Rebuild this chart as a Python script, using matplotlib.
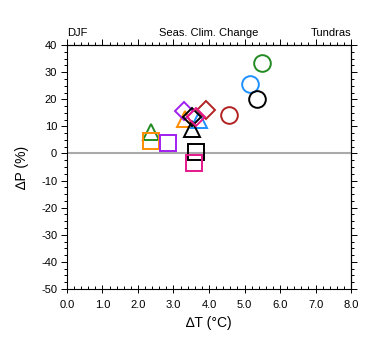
import numpy as np
import matplotlib
matplotlib.use("Agg")
import matplotlib.pyplot as plt
from matplotlib.ticker import MultipleLocator, NullFormatter

plt.rcParams['font.family'] = ['Liberation Sans', 'DejaVu Sans']
plt.rcParams['axes.unicode_minus'] = False

# Werte (dT in degC, dP in %)
kreis_farbe = ['#228b22', '#1e90ff', '#000000', '#b22222']
kreis_dt = [5.48, 5.15, 5.35, 4.57]
kreis_dp = [33.5, 25.7, 20.0, 14.2]

dreieck_farbe = ['#ff8c00', '#1e90ff', '#000000', '#228b22']
dreieck_dt = [3.32, 3.73, 3.53, 2.36]
dreieck_dp = [12.6, 12.3, 8.9, 8.0]

raute_farbe = ['#b22222', '#a020f0', '#000000', '#e8178a']
raute_dt = [3.91, 3.30, 3.51, 3.63]
raute_dp = [16.0, 15.6, 13.5, 13.5]

quadrat_farbe = ['#ff8c00', '#a020f0', '#000000', '#e8178a']
quadrat_dt = [2.37, 2.84, 3.63, 3.59]
quadrat_dp = [4.7, 3.7, 0.5, -3.4]

x_ticks = [0, 1, 2, 3, 4, 5, 6, 7, 8]
y_ticks = [-50, -40, -30, -20, -10, 0, 10, 20, 30, 40]

fig = plt.figure(figsize=(3.8, 3.55), dpi=100)
ax = fig.add_axes([0.176, 0.186, 0.748, 0.687])

ax.axhline(0, color='#aaaaaa', lw=1.5, zorder=1)

gruppen = [
    ('o', 12, kreis_farbe, kreis_dt, kreis_dp),
    ('^', 12, dreieck_farbe, dreieck_dt, dreieck_dp),
    ('D', 9, raute_farbe, raute_dt, raute_dp),
    ('s', 12, quadrat_farbe, quadrat_dt, quadrat_dp),
]
for m, ms, cols, xs, ys in gruppen:
    for c, x, y in zip(cols, xs, ys):
        ax.plot(x, y, marker=m, ms=ms, mfc='none', mec=c, mew=1.4, ls='none',
                zorder=3)

ax.set_xlim(0, 8)
ax.set_ylim(-50, 40)
ax.set_xticks(x_ticks)
ax.set_xticklabels(['%.1f' % v for v in x_ticks])
ax.set_yticks(y_ticks)
ax.xaxis.set_minor_locator(MultipleLocator(0.2))
ax.yaxis.set_minor_locator(MultipleLocator(2.5))

for s in ax.spines.values():
    s.set_linewidth(0.8)

ax.tick_params(which='both', labelsize=8, width=0.7)
ax.tick_params(axis='y', which='major', direction='out', length=4, pad=3)
ax.tick_params(axis='y', which='minor', direction='out', length=2.2)
ax.tick_params(axis='x', which='major', direction='inout', length=6, pad=5)
ax.tick_params(axis='x', which='minor', direction='in', length=2.2)

# obere und rechte Achse: Ticks nach aussen
oben = ax.secondary_xaxis('top')
oben.set_xticks(x_ticks)
oben.xaxis.set_minor_locator(MultipleLocator(0.2))
oben.xaxis.set_major_formatter(NullFormatter())
oben.tick_params(which='major', direction='out', length=4, width=0.7)
oben.tick_params(which='minor', direction='out', length=2.2, width=0.7)

rechts = ax.secondary_yaxis('right')
rechts.set_yticks(y_ticks)
rechts.yaxis.set_minor_locator(MultipleLocator(2.5))
rechts.yaxis.set_major_formatter(NullFormatter())
rechts.tick_params(which='major', direction='out', length=4, width=0.7)
rechts.tick_params(which='minor', direction='out', length=2.2, width=0.7)

ax.set_xlabel('\u2206T (\u00b0C)', fontsize=10, labelpad=4)
ax.set_ylabel('\u2206P (%)', fontsize=10, labelpad=9)

ax.text(0.0, 1.03, 'DJF', transform=ax.transAxes, fontsize=8, ha='left', va='bottom')
ax.text(0.5, 1.03, 'Seas. Clim. Change', transform=ax.transAxes, fontsize=8, ha='center', va='bottom')
ax.text(1.0, 1.03, 'Tundras', transform=ax.transAxes, fontsize=8, ha='right', va='bottom')

fig.savefig('out.png', dpi=100)
